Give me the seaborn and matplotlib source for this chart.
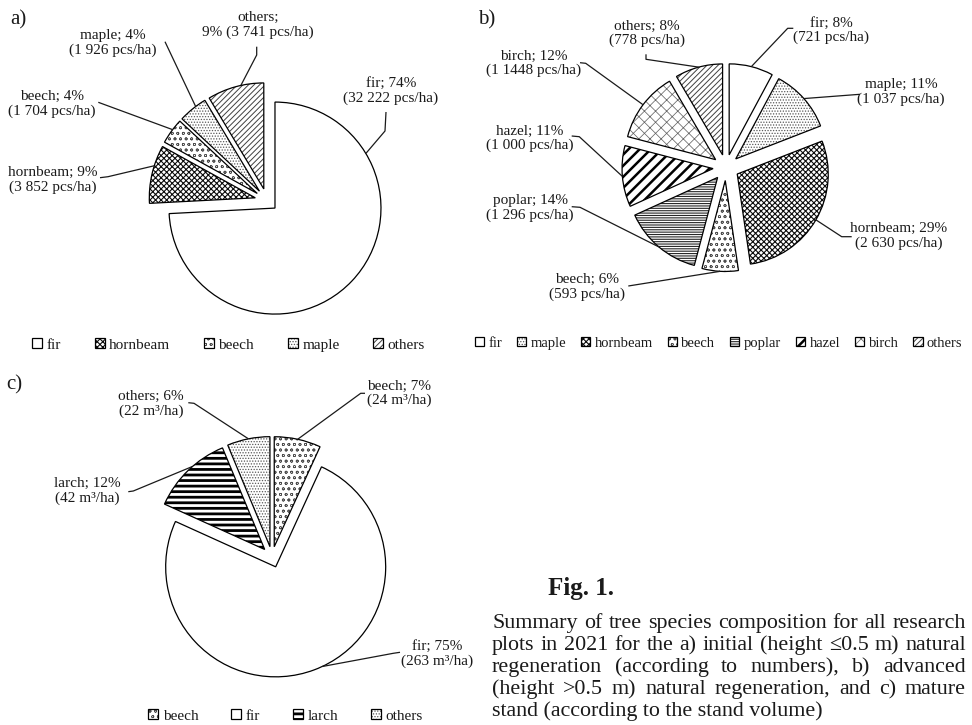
import matplotlib
matplotlib.use("Agg")
import matplotlib.pyplot as plt
import matplotlib.colors as mcolors
from matplotlib.legend import Legend
import numpy as np
import seaborn as sns

# ---------------------------------------------------------------- data
# a) initial natural regeneration (height <= 0.5 m), pcs/ha
a_species = ["fir", "hornbeam", "beech", "maple", "others"]
a_counts = [32222, 3852, 1704, 1926, 3741]
a_count_text = ["32 222", "3 852", "1 704", "1 926", "3 741"]

# b) advanced natural regeneration (height > 0.5 m), pcs/ha
b_species = ["fir", "maple", "hornbeam", "beech", "poplar", "hazel", "birch", "others"]
b_counts = [721, 1037, 2630, 593, 1296, 1000, 1148, 778]
b_count_text = ["721", "1 037", "2 630", "593", "1 296", "1 000", "1 1448", "778"]

# c) mature stand, volume m3/ha
c_species = ["beech", "fir", "larch", "others"]
c_volume = [24, 263, 42, 22]
c_volume_text = ["24", "263", "42", "22"]

caption_title = "Fig. 1."
caption_lines = [
    "Summary of tree species composition for all research",
    "plots in 2021 for the a) initial (height \u22640.5 m) natural",
    "regeneration (according to numbers), b) advanced",
    "(height >0.5 m) natural regeneration, and c) mature",
    "stand (according to the stand volume)",
]

# ---------------------------------------------------------------- style
W, H = 972, 725
sns.set_theme(style="white")
plt.rcParams["font.family"] = ["Liberation Serif", "DejaVu Serif"]
plt.rcParams["hatch.linewidth"] = 0.6

LABEL_FS = 11
INK = "#1a1a1a"

# hatch pattern, hatch colour, hatch line width
HATCH = {
    "plain": (None, "black", 0.6),
    "dense": ("xxxxxx", "0.05", 0.8),
    "sparse": ("ooo", "0.3", 0.5),
    "fine_dots": ("......", "0.35", 0.6),
    "fine_diag": ("//////", "0.25", 0.7),
    "hlines": ("-------", "0.15", 0.8),
    "thick_diag": ("///", "black", 1.8),
    "mesh": ("xxx", "0.4", 0.55),
    "thick_hlines": ("---", "black", 2.0),
}

fig = plt.figure(figsize=(W / 100, H / 100), dpi=100)
ax = fig.add_axes([0, 0, 1, 1])


def px(x, y):
    """Convert top-left based pixel position to data coordinates."""
    return (x, H - y)


def style_patch(p, key):
    hatch, color, lw = HATCH[key]
    p.set_hatch(hatch)
    rgba = mcolors.to_rgba(color)
    if hasattr(p, "set_hatchcolor"):
        p.set_hatchcolor(rgba)
    else:
        p._hatch_color = rgba
    if hasattr(p, "set_hatch_linewidth"):
        p.set_hatch_linewidth(lw)


def draw_pie(values, names, amounts, unit, center, radius, explode, hatches,
             label_xy, attach, leaders, wrap_after_name=()):
    wedges, _ = ax.pie(values, radius=radius, center=px(*center), explode=explode,
                       startangle=90, counterclock=False,
                       colors=["white"] * len(values),
                       wedgeprops=dict(edgecolor="black", linewidth=0.9),
                       frame=True)
    total = float(sum(values))
    for w, key in zip(wedges, hatches):
        style_patch(w, key)
    for i, w in enumerate(wedges):
        pct = int(round(100 * values[i] / total))
        if names[i] in wrap_after_name:
            txt = f"{names[i]};\n{pct}% ({amounts[i]} {unit})"
        else:
            txt = f"{names[i]}; {pct}%\n({amounts[i]} {unit})"
        ax.text(*px(*label_xy[i]), txt, ha="center", va="center",
                fontsize=LABEL_FS, linespacing=1.1, color=INK)
        ang = attach[i]
        if ang is None:
            ang = 0.5 * (w.theta1 + w.theta2)
        th = np.deg2rad(ang)
        end = (w.center[0] + w.r * np.cos(th), w.center[1] + w.r * np.sin(th))
        pts = [px(*p) for p in leaders[i]] + [end]
        xs, ys = zip(*pts)
        ax.plot(xs, ys, color=INK, lw=0.9, solid_capstyle="butt")
    return wedges


def add_legend(wedges, names, hatches, center, colspace, fontsize):
    leg = Legend(ax, wedges, names, loc="center", bbox_to_anchor=px(*center),
                 bbox_transform=ax.transData, ncol=len(names), frameon=False,
                 fontsize=fontsize, handlelength=0.65, handleheight=0.65,
                 handletextpad=0.3, columnspacing=colspace, borderpad=0,
                 borderaxespad=0)
    for p, key in zip(leg.get_patches(), hatches):
        p.set_linewidth(0.9)
        p.set_edgecolor("black")
        style_patch(p, key)
    for t in leg.get_texts():
        t.set_color(INK)
    ax.add_artist(leg)


# ---------------------------------------------------------------- panel a
a_hatch = ["plain", "dense", "sparse", "fine_dots", "fine_diag"]
wa = draw_pie(
    a_counts, a_species, a_count_text, "pcs/ha",
    center=(267, 200.5), radius=106, explode=[11, 12, 12, 12, 12], hatches=a_hatch,
    label_xy=[(391, 91), (53, 180), (52, 104), (113, 43), (258, 25)],
    attach=[31, 162.4, 143, 127, 102.5],
    leaders=[[(386, 112), (385, 131)], [(100, 177.7), (108, 176.7)],
             [(98.3, 102.3)], [(165, 41.7)], [(256.7, 46.7), (256.7, 55)]],
    wrap_after_name=("others",),
)
add_legend(wa, a_species, a_hatch, center=(228.5, 345), colspace=2.2, fontsize=11)

# ---------------------------------------------------------------- panel b
b_hatch = ["plain", "fine_dots", "dense", "sparse", "hlines", "thick_diag", "mesh", "fine_diag"]
wb = draw_pie(
    b_counts, b_species, b_count_text, "pcs/ha",
    center=(726, 167.5), radius=91, explode=[13] * 8, hatches=b_hatch,
    label_xy=[(831, 30.5), (901, 92), (899, 236), (587, 287), (530, 208),
              (530, 138.5), (534, 63.5), (647, 33.5)],
    attach=[None] * 8,
    leaders=[[(793.3, 28.3), (787.7, 28.3)], [(860, 94.3)],
             [(851.7, 236.7), (841.7, 236.7)], [(628.3, 286)],
             [(571.7, 206.7), (580, 207.3)], [(571.7, 136), (579.3, 136.7)],
             [(580, 62.7), (585.7, 63.3)], [(646, 54.3), (646, 59.3)]],
)
add_legend(wb, b_species, b_hatch, center=(718.5, 343), colspace=1.0, fontsize=10.5)

# ---------------------------------------------------------------- panel c
c_hatch = ["sparse", "plain", "thick_hlines", "fine_dots"]
wc = draw_pie(
    c_volume, c_species, c_volume_text, "m\u00b3/ha",
    center=(272, 557), radius=110, explode=[10.5] * 4, hatches=c_hatch,
    label_xy=[(399, 393.5), (437, 654), (87, 491), (151, 404)],
    attach=[None, -65, 131, None],
    leaders=[[(365, 393.3), (360.7, 393.3)], [(400, 652.3), (393.3, 653.3)],
             [(128.3, 491.7), (133.3, 491)], [(188.3, 402.7), (194, 403.3)]],
)
add_legend(wc, c_species, c_hatch, center=(285.5, 716), colspace=2.15, fontsize=11)

# ---------------------------------------------------------------- panel tags
for tag, (x, y) in zip(["a)", "b)", "c)"], [(10, 20), (478, 20), (6, 385)]):
    ax.text(*px(x, y), tag, ha="left", va="center", fontsize=15, color=INK)

# ---------------------------------------------------------------- caption
ax.text(*px(548, 595), caption_title, ha="left", va="baseline",
        fontsize=18, fontweight="bold", color=INK)

CAP_FS = 15.8
x_left, x_right = 492, 966
baselines = [628, 650, 672, 694, 716]
renderer = fig.canvas.get_renderer()


def text_width(s):
    t = ax.text(0, 0, s, fontsize=CAP_FS)
    w = t.get_window_extent(renderer).width
    t.remove()
    return w


for k, (line, yb) in enumerate(zip(caption_lines, baselines)):
    if k == len(caption_lines) - 1:
        ax.text(*px(x_left, yb), line, ha="left", va="baseline",
                fontsize=CAP_FS, color=INK)
        continue
    words = line.split(" ")
    widths = [text_width(w) for w in words]
    gap = (x_right - x_left - sum(widths)) / (len(words) - 1)
    x = x_left
    for w, wd in zip(words, widths):
        ax.text(*px(x, yb), w, ha="left", va="baseline",
                fontsize=CAP_FS, color=INK)
        x += wd + gap

ax.set_xlim(0, W)
ax.set_ylim(0, H)
ax.set_aspect("auto")
ax.set_axis_off()

fig.savefig("out.png", dpi=100)
